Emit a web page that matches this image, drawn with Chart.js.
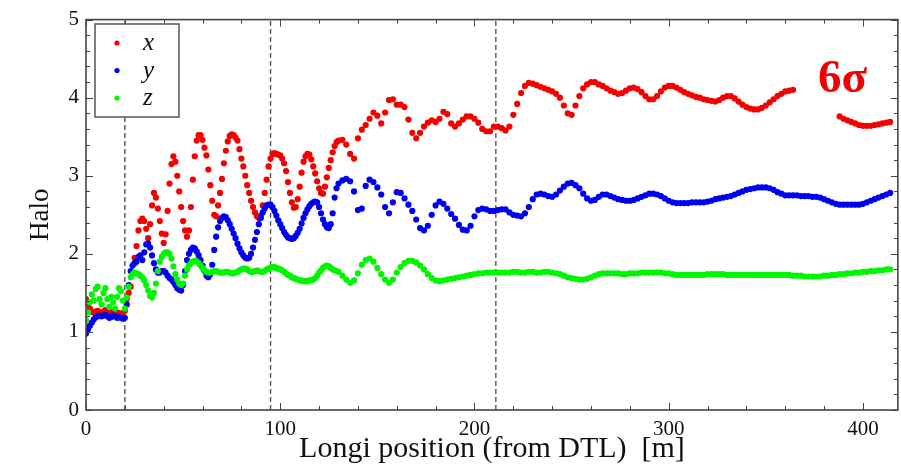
<!DOCTYPE html>
<html>
<head>
<meta charset="utf-8">
<title>Halo along the linac</title>
<script src="https://cdn.jsdelivr.net/npm/chart.js@4"></script>
<style>
  html, body { margin: 0; padding: 0; background: #fff; }
  #wrap { width: 901px; height: 467px; }
</style>
</head>
<body>
<div id="wrap"><canvas id="haloChart" width="901" height="467"></canvas></div>
<script>
// longitudinal positions [m]: 1 m steps up to 130, then 2 m steps
const pos = [
  0,1,2,3,4,5,6,7,8,9, 10,11,12,13,14,15,16,17,18,19,
  20,21,22,23,24,25,26,27,28,29, 30,31,32,33,34,35,36,37,38,39,
  40,41,42,43,44,45,46,47,48,49, 50,51,52,53,54,55,56,57,58,59,
  60,61,62,63,64,65,66,67,68,69, 70,71,72,73,74,75,76,77,78,79,
  80,81,82,83,84,85,86,87,88,89, 90,91,92,93,94,95,96,97,98,99,
  100,101,102,103,104,105,106,107,108,109, 110,111,112,113,114,115,116,117,118,119,
  120,121,122,123,124,125,126,127,128,129, 130,
  132,134,136,138,140,142,144,146,148,150, 152,154,156,158,160,162,164,166,168,170,
  172,174,176,178,180,182,184,186,188,190, 192,194,196,198,200,202,204,206,208,210,
  212,214,216,218,220,222,224,226,228,230, 232,234,236,238,240,242,244,246,248,250,
  252,254,256,258,260,262,264,266,268,270, 272,274,276,278,280,282,284,286,288,290,
  292,294,296,298,300,302,304,306,308,310, 312,314,316,318,320,322,324,326,328,330,
  332,334,336,338,340,342,344,346,348,350, 352,354,356,358,360,362,364,366,368,370,
  372,374,376,378,380,382,384,386,388,390, 392,394,396,398,400,402,404,406,408,410,
  412,414
];

const haloX = [
  1.42,1.36,1.30,1.26,1.25,1.26,1.27,1.25,1.24,1.26, 1.28,1.27,1.25,1.24,1.26,1.27,1.25,1.24,1.23,1.24,
  1.27,1.42,1.50,1.58,1.75,1.95,2.10,2.30,2.42,2.45, 2.42,2.32,2.20,2.38,2.62,2.78,2.72,2.58,2.42,2.26,
  2.14,2.25,2.55,2.90,3.15,3.25,3.18,3.00,2.80,2.60, 2.42,2.30,2.22,2.30,2.60,2.95,3.25,3.45,3.52,3.52,
  3.46,3.36,3.26,3.08,2.88,2.68,2.50,2.48,2.62,2.78, 2.96,3.16,3.32,3.44,3.51,3.53,3.52,3.49,3.45,3.34,
  3.22,3.12,3.00,2.88,2.78,2.68,2.60,2.53,2.48,2.46, 2.49,2.62,2.78,2.95,3.12,3.22,3.28,3.29,3.28,3.27,
  3.26,3.22,3.16,3.06,2.92,2.78,2.66,2.59,2.60,2.70, 2.86,3.04,3.18,3.25,3.28,3.27,3.21,3.12,3.03,2.93,
  2.84,2.78,2.77,2.86,2.98,3.10,3.20,3.30,3.38,3.43, 3.45,
  3.46,3.40,3.28,3.22,3.48,3.59,3.65,3.73,3.81,3.77, 3.67,3.81,3.97,3.98,3.91,3.91,3.88,3.72,3.55,3.48,
  3.55,3.63,3.68,3.71,3.69,3.73,3.82,3.79,3.67,3.63, 3.67,3.72,3.76,3.76,3.73,3.68,3.60,3.57,3.57,3.63,
  3.63,3.61,3.58,3.63,3.78,3.92,4.06,4.15,4.19,4.18, 4.16,4.14,4.12,4.10,4.08,4.05,4.00,3.90,3.80,3.78,
  3.90,4.02,4.12,4.17,4.20,4.20,4.17,4.15,4.12,4.09, 4.07,4.05,4.06,4.09,4.12,4.13,4.11,4.07,4.02,3.98,
  3.98,4.02,4.08,4.13,4.15,4.15,4.13,4.10,4.07,4.05, 4.03,4.01,4.00,3.98,3.97,3.96,3.95,3.97,4.00,4.02,
  4.02,3.99,3.95,3.91,3.88,3.86,3.85,3.85,3.87,3.90, 3.94,3.98,4.02,4.05,4.08,4.09,4.10,null,null,null,
  null,null,null,null,null,null,null,null,3.76,3.73, 3.71,3.69,3.67,3.65,3.64,3.64,3.64,3.65,3.66,3.67,
  3.68,3.69
];

const haloY = [
  0.98,1.03,1.08,1.12,1.16,1.19,1.20,1.21,1.20,1.21, 1.22,1.20,1.18,1.19,1.21,1.20,1.18,1.19,1.18,1.17,
  1.18,1.35,1.60,1.78,1.85,1.88,1.90,1.96,1.98,1.92, 2.02,2.12,2.13,2.08,1.98,1.88,1.80,1.76,1.76,1.78,
  1.78,1.76,1.72,1.69,1.67,1.64,1.60,1.56,1.54,1.53, 1.60,1.78,1.92,2.00,2.05,2.08,2.07,2.03,1.98,1.92,
  1.85,1.78,1.72,1.70,1.74,1.86,2.05,2.22,2.34,2.42, 2.46,2.48,2.47,2.43,2.38,2.32,2.26,2.20,2.13,2.07,
  2.02,1.98,1.95,1.94,1.95,2.00,2.08,2.18,2.28,2.38, 2.46,2.53,2.58,2.62,2.63,2.63,2.60,2.55,2.49,2.43,
  2.38,2.33,2.28,2.24,2.21,2.20,2.19,2.20,2.23,2.27, 2.32,2.39,2.46,2.52,2.57,2.61,2.64,2.66,2.67,2.66,
  2.60,2.52,2.44,2.38,2.34,2.33,2.38,2.52,2.72,2.84, 2.90,
  2.94,2.96,2.93,2.80,2.56,2.58,2.87,2.95,2.92,2.85, 2.76,2.60,2.52,2.66,2.79,2.78,2.71,2.63,2.55,2.44,
  2.33,2.30,2.36,2.50,2.62,2.67,2.64,2.58,2.51,2.45, 2.37,2.31,2.30,2.36,2.48,2.56,2.58,2.57,2.55,2.55,
  2.56,2.57,2.57,2.53,2.50,2.49,2.48,2.52,2.60,2.70, 2.76,2.77,2.76,2.74,2.73,2.76,2.81,2.86,2.90,2.91,
  2.88,2.84,2.77,2.71,2.68,2.69,2.73,2.76,2.76,2.74, 2.72,2.70,2.69,2.68,2.68,2.69,2.71,2.73,2.75,2.77,
  2.77,2.76,2.74,2.71,2.68,2.66,2.65,2.65,2.65,2.65, 2.66,2.66,2.66,2.66,2.67,2.68,2.70,2.71,2.72,2.73,
  2.74,2.76,2.78,2.80,2.82,2.83,2.84,2.85,2.85,2.85, 2.84,2.82,2.79,2.77,2.75,2.75,2.75,2.75,2.74,2.74,
  2.74,2.73,2.73,2.72,2.70,2.68,2.66,2.64,2.63,2.63, 2.63,2.63,2.63,2.63,2.64,2.66,2.68,2.70,2.72,2.74,
  2.76,2.78
];

const haloZ = [
  1.15,1.25,1.38,1.48,1.40,1.55,1.58,1.42,1.35,1.50, 1.56,1.42,1.32,1.45,1.38,1.30,1.45,1.56,1.52,1.40,
  1.30,1.44,1.58,1.70,1.74,1.76,1.75,1.74,1.72,1.70, 1.66,1.60,1.53,1.46,1.44,1.50,1.62,1.78,1.90,1.96,
  2.00,2.02,2.02,2.00,1.94,1.84,1.74,1.67,1.62,1.60, 1.62,1.72,1.80,1.85,1.88,1.90,1.91,1.90,1.88,1.85,
  1.82,1.79,1.77,1.76,1.76,1.77,1.78,1.78,1.77,1.76, 1.76,1.76,1.77,1.77,1.76,1.75,1.75,1.76,1.77,1.79,
  1.80,1.81,1.81,1.80,1.78,1.77,1.77,1.78,1.79,1.78, 1.77,1.77,1.78,1.80,1.81,1.82,1.83,1.83,1.82,1.81,
  1.80,1.79,1.77,1.75,1.73,1.72,1.70,1.69,1.68,1.67, 1.66,1.66,1.65,1.65,1.65,1.66,1.66,1.67,1.69,1.72,
  1.76,1.79,1.82,1.84,1.85,1.84,1.82,1.80,1.79,1.78, 1.77,
  1.72,1.67,1.63,1.66,1.75,1.86,1.92,1.94,1.90,1.82, 1.74,1.67,1.63,1.67,1.76,1.83,1.88,1.91,1.91,1.89,
  1.85,1.80,1.74,1.69,1.66,1.65,1.66,1.67,1.68,1.69, 1.70,1.71,1.72,1.73,1.74,1.75,1.75,1.76,1.76,1.76,
  1.76,1.76,1.76,1.76,1.77,1.77,1.76,1.76,1.77,1.77, 1.76,1.76,1.77,1.77,1.76,1.75,1.74,1.72,1.70,1.69,
  1.68,1.67,1.67,1.68,1.70,1.72,1.74,1.75,1.75,1.75, 1.75,1.75,1.74,1.74,1.75,1.75,1.75,1.76,1.76,1.76,
  1.76,1.76,1.76,1.75,1.75,1.74,1.73,1.73,1.73,1.73, 1.73,1.73,1.73,1.73,1.74,1.74,1.74,1.74,1.74,1.73,
  1.73,1.73,1.73,1.73,1.73,1.73,1.73,1.73,1.73,1.73, 1.73,1.73,1.73,1.73,1.73,1.73,1.72,1.72,1.72,1.71,
  1.71,1.71,1.71,1.71,1.72,1.72,1.73,1.73,1.74,1.74, 1.75,1.75,1.76,1.76,1.77,1.77,1.78,1.78,1.79,1.79,
  1.80,1.80
];

// section boundaries marked with dashed verticals [m]
const sectionEdges = [20, 95, 211];

const xTicks = [0, 100, 200, 300, 400];
const yTicks = [0, 1, 2, 3, 4, 5];

const serif = "'Liberation Serif', 'Times New Roman', serif";
Chart.defaults.font.family = serif;
Chart.defaults.color = '#111';

function points(vals) {
  return pos.map((p, i) => ({ x: p, y: vals[i] }));
}

function dotSet(label, vals, color, order) {
  return {
    type: 'scatter',
    label: label,
    data: points(vals),
    backgroundColor: color,
    borderWidth: 0,
    pointRadius: 3.1,
    pointHoverRadius: 3.1,
    order: order
  };
}

const datasets = [
  dotSet('z', haloZ, 'rgb(0,245,0)', 1),
  dotSet('y', haloY, 'rgb(0,0,240)', 2),
  dotSet('x', haloX, 'rgb(245,0,0)', 3)
];
sectionEdges.forEach(s => {
  datasets.push({
    type: 'line',
    label: '',
    data: [{ x: s, y: 0 }, { x: s, y: 5 }],
    borderColor: '#555',
    borderWidth: 1.4,
    borderDash: [5, 3],
    pointRadius: 0,
    order: 9
  });
});

// frame with inward ticks on all four sides (major + minor)
const frame = {
  id: 'frame',
  afterDatasetsDraw(chart) {
    const { ctx, chartArea: a, scales: { x, y } } = chart;
    ctx.save();
    ctx.strokeStyle = '#444';
    ctx.lineWidth = 1.6;
    ctx.strokeRect(a.left, a.top, a.right - a.left, a.bottom - a.top);
    ctx.lineWidth = 1;
    ctx.beginPath();
    for (let v = 0; v <= x.max; v += 20) {
      const px = Math.round(x.getPixelForValue(v)) + 0.5;
      const len = v % 100 === 0 ? 7 : 4;
      ctx.moveTo(px, a.bottom); ctx.lineTo(px, a.bottom - len);
      ctx.moveTo(px, a.top); ctx.lineTo(px, a.top + len);
    }
    for (let i = 0; i <= 25; i++) {
      const py = Math.round(y.getPixelForValue(i / 5)) + 0.5;
      const len = i % 5 === 0 ? 7 : 4;
      ctx.moveTo(a.left, py); ctx.lineTo(a.left + len, py);
      ctx.moveTo(a.right, py); ctx.lineTo(a.right - len, py);
    }
    ctx.stroke();
    ctx.restore();
  }
};

// boxed legend in the upper-left corner, plus the 6σ note
const boxLegend = {
  id: 'boxLegend',
  afterDraw(chart) {
    const { ctx } = chart;
    const items = chart.data.datasets.filter(d => d.label).slice().reverse();
    ctx.save();
    ctx.fillStyle = '#fff';
    ctx.fillRect(95, 24, 84, 93);
    ctx.strokeStyle = '#555';
    ctx.lineWidth = 1.5;
    ctx.strokeRect(95, 24, 84, 93);
    items.forEach((d, i) => {
      const cy = 43 + i * 27.5;
      ctx.fillStyle = d.backgroundColor;
      ctx.beginPath();
      ctx.arc(117, cy, 2.6, 0, Math.PI * 2);
      ctx.fill();
      ctx.fillStyle = '#111';
      ctx.font = 'italic 25px ' + serif;
      ctx.textBaseline = 'alphabetic';
      ctx.fillText(d.label, 143, cy + 7);
    });
    ctx.fillStyle = 'rgb(240,0,0)';
    ctx.font = 'bold 47px ' + serif;
    ctx.fillText('6σ', 818, 92);
    ctx.restore();
  }
};

new Chart(document.getElementById('haloChart'), {
  type: 'scatter',
  data: { datasets: datasets },
  options: {
    responsive: false,
    animation: false,
    devicePixelRatio: 1,
    layout: { padding: { top: 16, right: 2, left: 0, bottom: 0 } },
    plugins: { legend: { display: false }, tooltip: { enabled: false } },
    scales: {
      x: {
        type: 'linear',
        min: 0,
        max: 418,
        grid: { display: false, drawTicks: false },
        border: { display: false },
        afterBuildTicks: s => { s.ticks = xTicks.map(v => ({ value: v })); },
        ticks: { font: { size: 21 }, padding: 7, maxRotation: 0, color: '#111' },
        title: {
          display: true,
          text: 'Longi position (from DTL)  [m]',
          font: { size: 30 },
          color: '#111',
          padding: { top: 0, bottom: 0 }
        },
        afterFit: s => { s.height = 57; }
      },
      y: {
        type: 'linear',
        min: 0,
        max: 5,
        grid: { display: false, drawTicks: false },
        border: { display: false },
        afterBuildTicks: s => { s.ticks = yTicks.map(v => ({ value: v })); },
        ticks: { font: { size: 21 }, padding: 7, color: '#111' },
        title: {
          display: true,
          text: 'Halo',
          font: { size: 27 },
          color: '#111',
          padding: { top: 25, bottom: 0 }
        },
        afterFit: s => { s.width = 86; }
      }
    }
  },
  plugins: [frame, boxLegend]
});
</script>
</body>
</html>
